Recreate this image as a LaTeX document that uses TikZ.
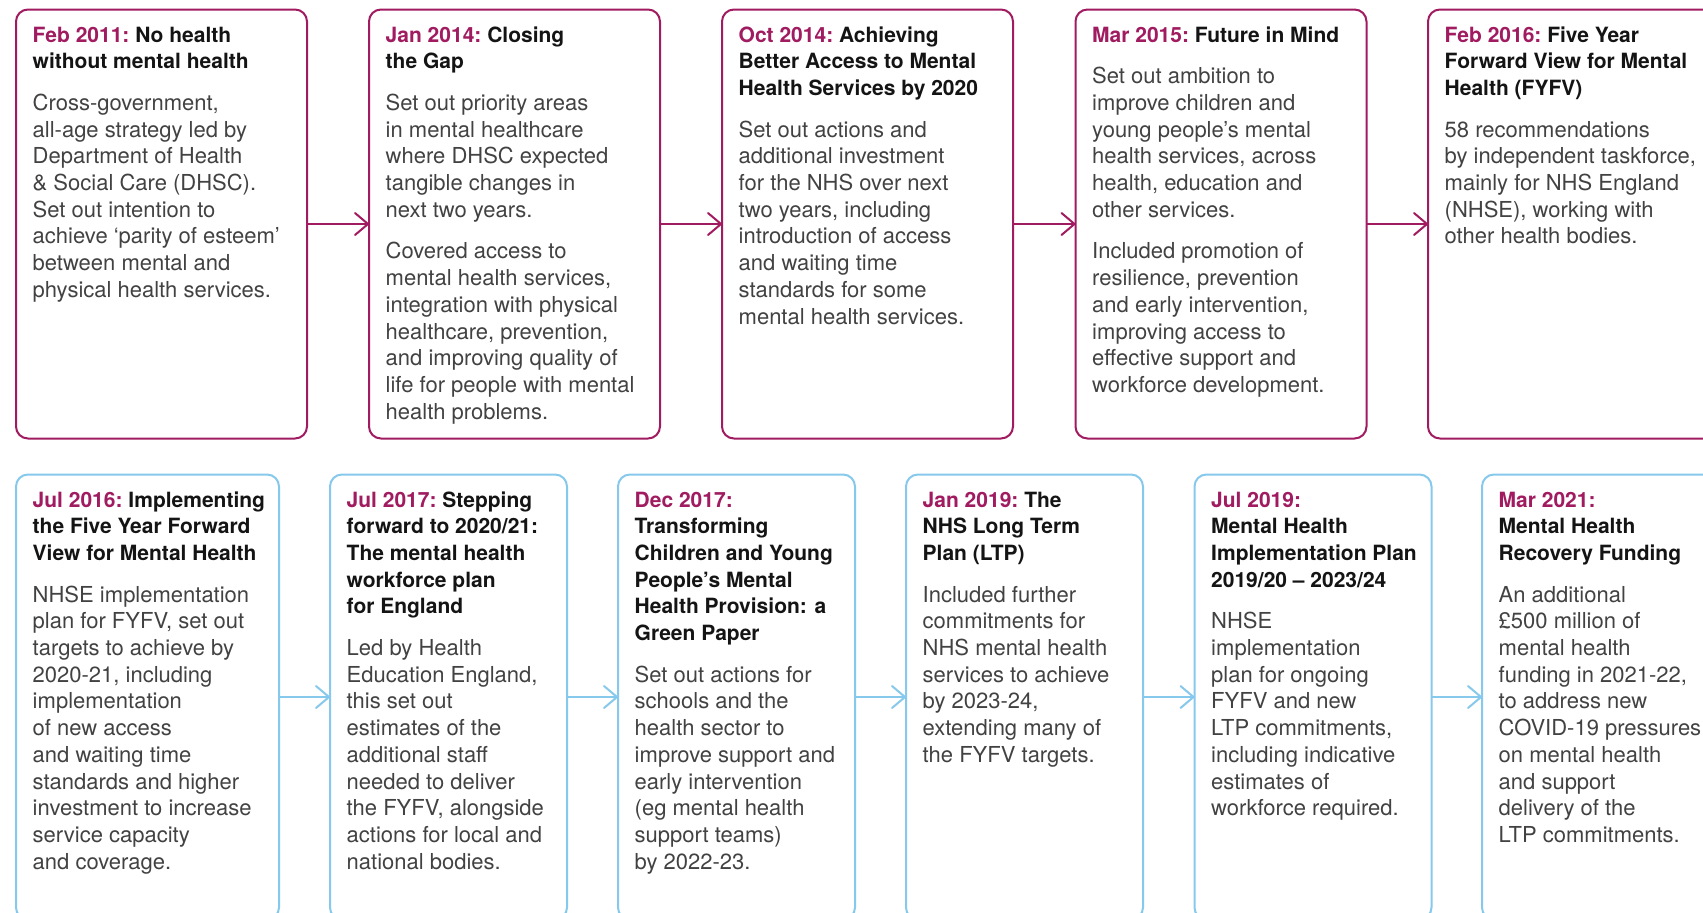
\documentclass[tikz,border=0pt]{standalone}
\usepackage{fontspec}
\setmainfont{TeX Gyre Heros}
\usetikzlibrary{arrows.meta}

\definecolor{nhsmag}{RGB}{160,27,96}
\definecolor{nhssky}{RGB}{134,201,236}
\definecolor{bodyink}{RGB}{66,66,66}
\definecolor{headink}{RGB}{20,20,20}

\tikzset{
  cardbase/.style={rectangle, line width=2pt, rounded corners=12pt,
    inner sep=0pt, outer sep=0pt, anchor=north west},
  topcard/.style={cardbase, draw=nhsmag, minimum height=429pt},
  botcard/.style={cardbase, draw=nhssky, minimum height=445pt},
  headtext/.style={anchor=north west, align=left, inner sep=0pt,
    font=\fontsize{21}{26.7}\selectfont\bfseries, text=headink},
  bodytext/.style={anchor=north west, align=left, inner sep=0pt,
    font=\fontsize{22}{26.7}\selectfont, text=bodyink},
  magflow/.style={draw=nhsmag, line width=2pt,
    -{Straight Barb[length=13pt,width=22pt,line cap=round,line join=round]}},
  skyflow/.style={draw=nhssky, line width=2pt,
    -{Straight Barb[length=13pt,width=22pt,line cap=round,line join=round]}},
}

% first-line strut: the top of every text block lies 20pt above its first baseline
\newcommand\firstline{\rule{0pt}{20pt}}

% #1 name, #2 left, #3 top, #4 width, #5 card style,
% #6 date, #7 heading, #8 heading lines, #9 body text
\newcommand\tlcard[9]{%
  \node[#5, minimum width=#4pt] (#1) at (#2,#3) {};
  \node[headtext] (#1-head) at (#2+16.5,#3+32.3-20)
    {\firstline\textcolor{nhsmag}{#6}#7};
  \node[bodytext] (#1-body) at (#2+16.5,#3+32.3+#8*26.7+15-20)
    {\firstline #9};
}

\begin{document}
\begin{tikzpicture}[x=1pt,y=-1pt]
\useasboundingbox (0,0) rectangle (1703,913);
\clip (0,0) rectangle (1703,913);
\fill[white] (0,0) rectangle (1703,913);

% ---- upper row: policy milestones 2011-2016 ----
\tlcard{c1}{16}{9.5}{291}{topcard}{Feb 2011:}{\ No health\\without mental health}{2}
  {Cross-government,\\all-age strategy led by\\Department of Health\\\& Social Care (DHSC).\\Set out intention to\\achieve ‘parity of esteem’\\between mental and\\physical health services.}
\tlcard{c2}{369}{9.5}{291}{topcard}{Jan 2014:}{\ Closing\\the Gap}{2}
  {Set out priority areas\\in mental healthcare\\where DHSC expected\\tangible changes in\\next two years.\\[15pt]Covered access to\\mental health services,\\integration with physical\\healthcare, prevention,\\and improving quality of\\life for people with mental\\health problems.}
\tlcard{c3}{722}{9.5}{291}{topcard}{Oct 2014:}{\ Achieving\\Better Access to Mental\\Health Services by 2020}{3}
  {Set out actions and\\additional investment\\for the NHS over next\\two years, including\\introduction of access\\and waiting time\\standards for some\\mental health services.}
\tlcard{c4}{1075.5}{9.5}{291}{topcard}{Mar 2015:}{\ Future in Mind}{1}
  {Set out ambition to\\improve children and\\young people’s mental\\health services, across\\health, education and\\other services.\\[15pt]Included promotion of\\resilience, prevention\\and early intervention,\\improving access to\\effective support and\\workforce development.}
\tlcard{c5}{1428}{9.5}{291}{topcard}{Feb 2016:}{\ Five Year\\Forward View for Mental\\Health (FYFV)}{3}
  {58 recommendations\\by independent taskforce,\\mainly for NHS England\\(NHSE), working with\\other health bodies.}

% ---- lower row: implementation 2016-2021 ----
\tlcard{d1}{16}{474.5}{263}{botcard}{Jul 2016:}{\ Implementing\\the Five Year Forward\\View for Mental Health}{3}
  {NHSE implementation\\plan for FYFV, set out\\targets to achieve by\\2020-21, including\\implementation\\of new access\\and waiting time\\standards and higher\\investment to increase\\service capacity\\and coverage.}
\tlcard{d2}{330}{474.5}{237}{botcard}{Jul 2017:}{\ Stepping\\forward to 2020/21:\\The mental health\\workforce plan\\for England}{5}
  {Led by Health\\Education England,\\this set out\\estimates of the\\additional staff\\needed to deliver\\the FYFV, alongside\\actions for local and\\national bodies.}
\tlcard{d3}{618}{474.5}{237}{botcard}{Dec 2017:}{\\Transforming\\Children and Young\\People’s Mental\\Health Provision: a\\Green Paper}{6}
  {Set out actions for\\schools and the\\health sector to\\improve support and\\early intervention\\(eg mental health\\support teams)\\by 2022-23.}
\tlcard{d4}{906}{474.5}{237}{botcard}{Jan 2019:}{\ The\\NHS Long Term\\Plan (LTP)}{3}
  {Included further\\commitments for\\NHS mental health\\services to achieve\\by 2023-24,\\extending many of\\the FYFV targets.}
\tlcard{d5}{1194.5}{474.5}{237}{botcard}{Jul 2019:}{\\Mental Health\\Implementation Plan\\2019/20 -- 2023/24}{4}
  {NHSE\\implementation\\plan for ongoing\\FYFV and new\\LTP commitments,\\including indicative\\estimates of\\workforce required.}
\tlcard{d6}{1482}{474.5}{237}{botcard}{Mar 2021:}{\\Mental Health\\Recovery Funding}{3}
  {An additional\\£500 million of\\mental health\\funding in 2021-22,\\to address new\\COVID-19 pressures\\on mental health\\and support\\delivery of the\\LTP commitments.}

% ---- connectors ----
\draw[magflow] (c1.east) -- (c2.west);
\draw[magflow] (c2.east) -- (c3.west);
\draw[magflow] (c3.east) -- (c4.west);
\draw[magflow] (c4.east) -- (c5.west);
\draw[skyflow] (d1.east) -- (d2.west);
\draw[skyflow] (d2.east) -- (d3.west);
\draw[skyflow] (d3.east) -- (d4.west);
\draw[skyflow] (d4.east) -- (d5.west);
\draw[skyflow] (d5.east) -- (d6.west);
\end{tikzpicture}
\end{document}
